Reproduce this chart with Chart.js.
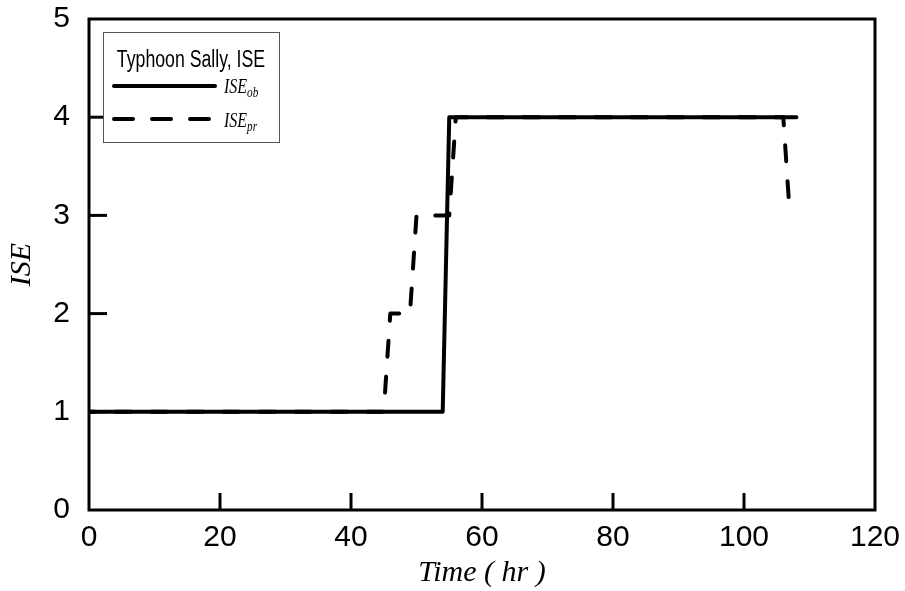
<!DOCTYPE html>
<html>
<head>
<meta charset="utf-8">
<script src="https://cdn.jsdelivr.net/npm/chart.js@4/dist/chart.umd.min.js"></script>
<style>
  html, body { margin: 0; padding: 0; background: #ffffff; }
  #wrap { width: 905px; height: 591px; }
</style>
</head>
<body>
<div id="wrap"><canvas id="c" width="905" height="591"></canvas></div>
<script>
// ---- data ----
const obTime = [0, 54, 55, 108];
const obISE  = [1, 1, 4, 4];
const prTime = [0, 45, 46, 49, 50, 55, 56, 106, 107];
const prISE  = [1, 1, 2, 2, 3, 3, 4, 4, 3];
const xTickValues = [0, 20, 40, 60, 80, 100, 120];
const yTickValues = [0, 1, 2, 3, 4, 5];
const legendTitle = 'Typhoon Sally, ISE';
const seriesNames = ['ISE', 'ISE'];
const seriesSubs = ['ob', 'pr'];
const xTitle = 'Time ( hr )';
const yTitle = 'ISE';

const toXY = (xs, ys) => xs.map((x, i) => ({ x: x, y: ys[i] }));

const framePlugin = {
  id: 'frameTicks',
  afterDatasetsDraw(chart) {
    const { ctx, chartArea: a, scales } = chart;
    ctx.save();
    ctx.strokeStyle = '#000';
    ctx.lineWidth = 3;
    ctx.lineCap = 'butt';
    ctx.strokeRect(a.left, a.top, a.right - a.left, a.bottom - a.top);
    xTickValues.forEach(v => {
      if (v === scales.x.min || v === scales.x.max) return;
      const px = scales.x.getPixelForValue(v);
      ctx.beginPath();
      ctx.moveTo(px, a.bottom);
      ctx.lineTo(px, a.bottom - 17);
      ctx.stroke();
    });
    yTickValues.forEach(v => {
      if (v === scales.y.min || v === scales.y.max) return;
      const py = scales.y.getPixelForValue(v);
      ctx.beginPath();
      ctx.moveTo(a.left, py);
      ctx.lineTo(a.left + 18, py);
      ctx.stroke();
    });
    ctx.restore();
  },
  afterDraw(chart) {
    const ctx = chart.ctx;
    ctx.save();
    ctx.fillStyle = '#fff';
    ctx.fillRect(103, 32, 176, 110);
    ctx.strokeStyle = '#555';
    ctx.lineWidth = 1;
    ctx.strokeRect(103.5, 32.5, 176, 110);
    ctx.fillStyle = '#000';
    ctx.save();
    ctx.translate(191, 67);
    ctx.scale(0.77, 1);
    ctx.font = '23px "Liberation Sans", Arial, sans-serif';
    ctx.textAlign = 'center';
    ctx.textBaseline = 'alphabetic';
    ctx.fillText(legendTitle, 0, 0);
    ctx.restore();
    ctx.strokeStyle = '#000';
    ctx.lineWidth = 4;
    ctx.lineCap = 'round';
    ctx.beginPath();
    ctx.moveTo(114, 86); ctx.lineTo(215, 86);
    ctx.stroke();
    ctx.setLineDash([19, 19]);
    ctx.beginPath();
    ctx.moveTo(114, 119); ctx.lineTo(209, 119);
    ctx.stroke();
    ctx.setLineDash([]);
    const drawLabel = (name, sub, x, y) => {
      ctx.save();
      ctx.translate(x, y);
      ctx.scale(0.8, 1);
      ctx.textAlign = 'left';
      ctx.textBaseline = 'alphabetic';
      ctx.font = 'italic 20px "Liberation Serif", "Times New Roman", serif';
      ctx.fillText(name, 0, 0);
      const w = ctx.measureText(name).width;
      ctx.font = 'italic 14px "Liberation Serif", "Times New Roman", serif';
      ctx.fillText(sub, w, 3.5);
      ctx.restore();
    };
    drawLabel(seriesNames[0], seriesSubs[0], 224, 93);
    drawLabel(seriesNames[1], seriesSubs[1], 224, 127);
    ctx.restore();
  }
};

Chart.defaults.color = '#000';

const zeroPad = s => { s.paddingLeft = 0; s.paddingRight = 0; s.paddingTop = 0; s.paddingBottom = 0; };

new Chart(document.getElementById('c'), {
  type: 'line',
  data: {
    datasets: [
      {
        label: 'ISE_ob',
        data: toXY(obTime, obISE),
        borderColor: '#000',
        borderWidth: 4,
        borderCapStyle: 'round',
        borderJoinStyle: 'round',
        pointRadius: 0,
        tension: 0,
        fill: false
      },
      {
        label: 'ISE_pr',
        data: toXY(prTime, prISE),
        borderColor: '#000',
        borderWidth: 4,
        borderDash: [16, 20],
        borderDashOffset: 10,
        borderCapStyle: 'round',
        borderJoinStyle: 'round',
        pointRadius: 0,
        tension: 0,
        fill: false
      }
    ]
  },
  options: {
    responsive: false,
    animation: false,
    devicePixelRatio: 1,
    layout: { padding: { left: 0, right: 30, top: 19, bottom: 0 } },
    plugins: { legend: { display: false }, tooltip: { enabled: false } },
    scales: {
      x: {
        type: 'linear',
        min: 0, max: 120,
        afterFit(s) { s.height = 81; zeroPad(s); },
        afterBuildTicks(s) { s.ticks = xTickValues.map(v => ({ value: v })); },
        grid: { display: false, drawTicks: false },
        border: { display: false },
        ticks: {
          padding: 10,
          maxRotation: 0,
          autoSkip: false,
          color: '#000',
          font: { family: '"Liberation Sans", Arial, sans-serif', size: 30 }
        },
        title: {
          display: true,
          text: xTitle,
          color: '#000',
          padding: { top: 0, bottom: 0 },
          font: { family: '"Liberation Serif", "Times New Roman", serif', size: 30, style: 'italic' }
        }
      },
      y: {
        type: 'linear',
        min: 0, max: 5,
        afterFit(s) { s.width = 89; zeroPad(s); },
        afterBuildTicks(s) { s.ticks = yTickValues.map(v => ({ value: v })); },
        grid: { display: false, drawTicks: false },
        border: { display: false },
        ticks: {
          padding: 19,
          autoSkip: false,
          color: '#000',
          font: { family: '"Liberation Sans", Arial, sans-serif', size: 30 }
        },
        title: {
          display: true,
          text: yTitle,
          color: '#000',
          padding: { top: 4, bottom: 0 },
          font: { family: '"Liberation Serif", "Times New Roman", serif', size: 30, style: 'italic' }
        }
      }
    }
  },
  plugins: [framePlugin]
});
</script>
</body>
</html>
